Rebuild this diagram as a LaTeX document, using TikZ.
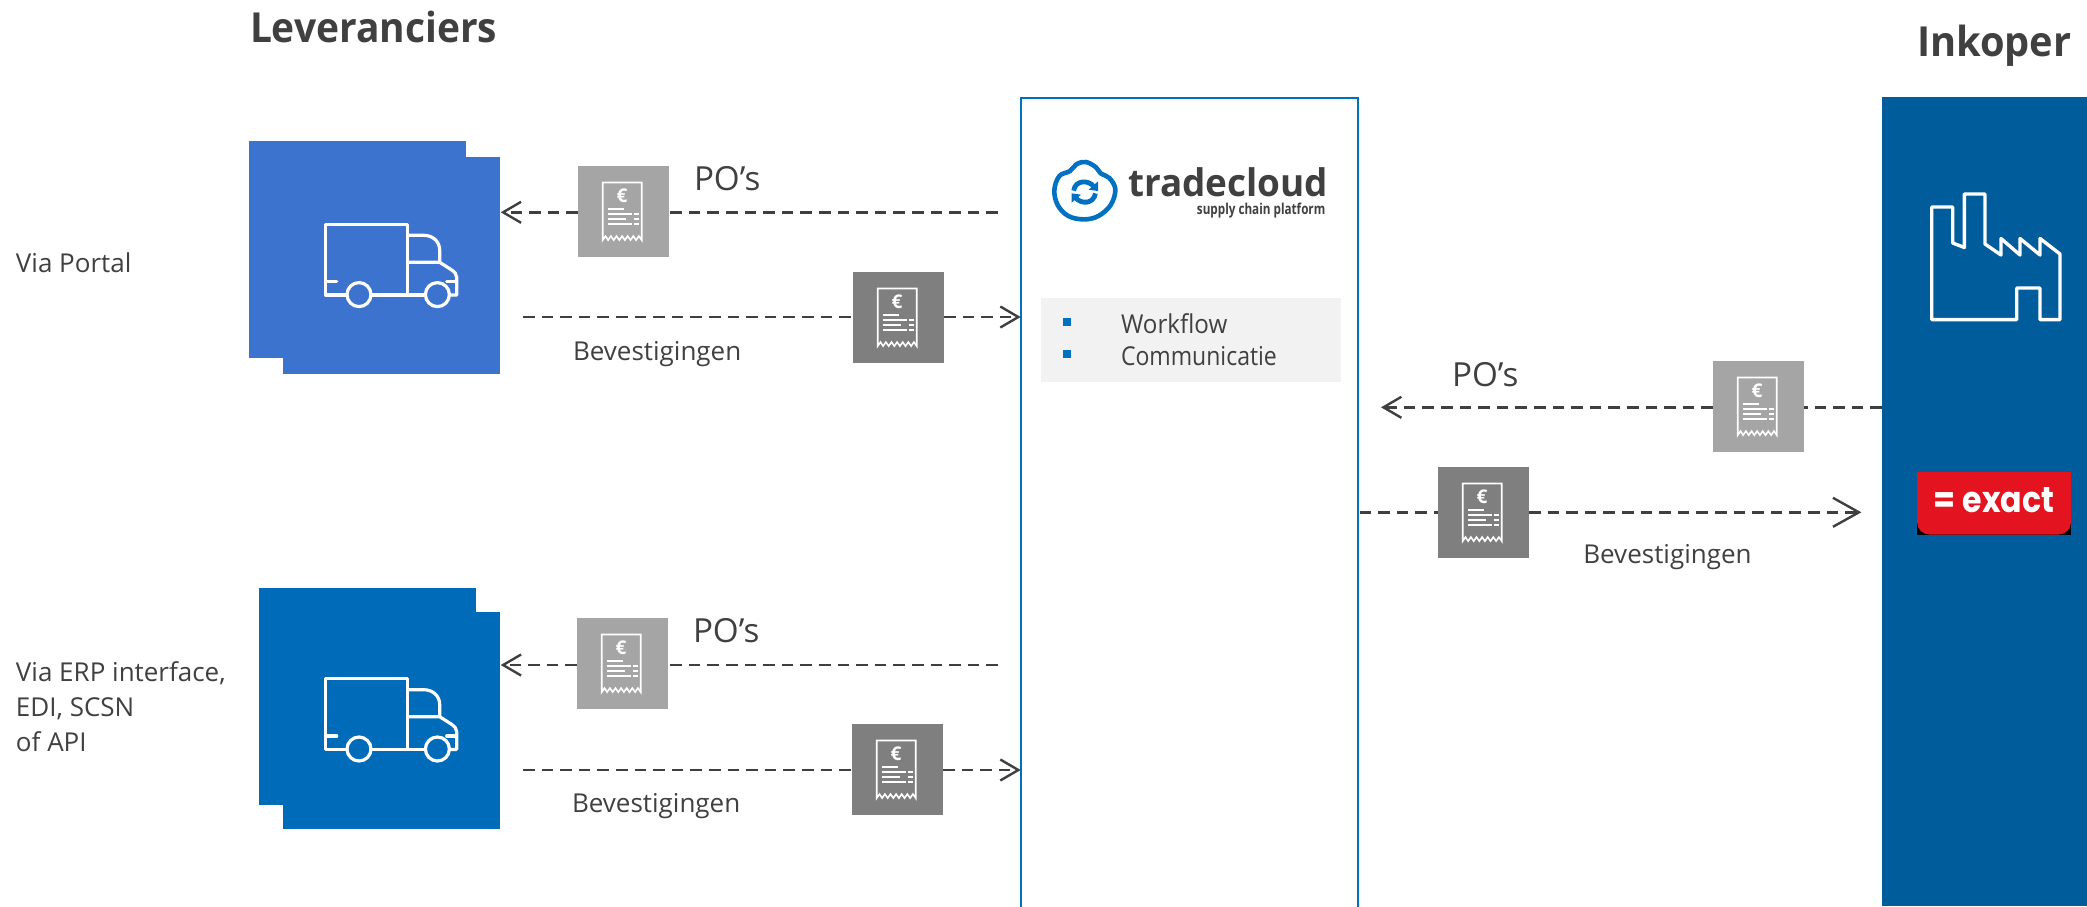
\documentclass[tikz,border=0pt]{standalone}
\usepackage{fontspec}
\setmainfont{Open Sans}
\newfontfamily\seg{Open Sans}
\newfontfamily\segn[FakeStretch=0.93]{Open Sans}
\newfontfamily\segc[FakeStretch=0.885]{Open Sans}
\newfontfamily\seghead[FakeStretch=0.94]{Open Sans}
\newfontfamily\segink[FakeStretch=0.96]{Open Sans}
\newfontfamily\logofont[FakeStretch=0.97]{Open Sans}
\newfontfamily\logosub[FakeStretch=0.78]{Open Sans}
\newfontfamily\exactfont[FakeStretch=0.88]{Poppins}
\usetikzlibrary{arrows.meta}
\definecolor{ink}{HTML}{404040}
\definecolor{flowc}{HTML}{3F3F3F}
\definecolor{supA}{HTML}{3C73CE}
\definecolor{supB}{HTML}{006CB9}
\definecolor{buyer}{HTML}{005C9B}
\definecolor{tcblue}{HTML}{0070C0}
\definecolor{tileL}{HTML}{A5A5A5}
\definecolor{tileD}{HTML}{7F7F7F}
\definecolor{panelg}{HTML}{F2F2F2}
\definecolor{exred}{HTML}{E31420}
\tikzset{
  lab/.style={anchor=base west,inner sep=0pt,outer sep=0pt,text=ink,font=\seg\fontsize{13}{17.5}\selectfont},
  big/.style={anchor=base west,inner sep=0pt,outer sep=0pt,text=ink,font=\seg\fontsize{16.6}{20}\selectfont},
  head/.style={anchor=base west,inner sep=0pt,outer sep=0pt,text=ink,font=\seghead\bfseries\fontsize{20.7}{24}\selectfont},
  tile/.style={minimum width=45.5pt,minimum height=45.5pt,inner sep=0pt,outer sep=0pt,fill=#1},
  block/.style={inner sep=0pt,outer sep=0pt,fill=#1},
  flow/.style={draw=flowc,line width=1.2pt,dash pattern=on 5.8pt off 3.5pt},
  small tip/.style={-{Straight Barb[length=9pt,width=10.5pt,line width=1.2pt]}},
  large tip/.style={-{Straight Barb[length=13pt,width=14.5pt,line width=1.2pt]}},
  receipt/.pic={
    \begin{scope}[draw=white,line width=.8pt,line join=miter]
      \draw (-20.8,28.6) -- (-20.8,-29) -- (18.2,-29) -- (18.2,28.6)
        -- (15.4,24.6) -- (12.6,28.6) -- (9.8,24.6) -- (7,28.6) -- (4.2,24.6) -- (1.4,28.6)
        -- (-1.4,24.6) -- (-4.2,28.6) -- (-7,24.6) -- (-9.8,28.6) -- (-12.6,24.6) -- (-15.4,28.6) -- (-18,24.6) -- cycle;
      \draw (-15.7,-2.7) -- (0,-2.7);
      \draw (-15.7,2.6) -- (8,2.6) (10,2.6) -- (15,2.6);
      \draw (-15.7,7.6) -- (2,7.6) (10,7.6) -- (15,7.6);
      \draw (-15.7,12.6) -- (8,12.6) (10,12.6) -- (15,12.6);
    \end{scope}
    \node[text=white,inner sep=0pt,font=\seg\bfseries\fontsize{9.5}{10}\selectfont] at (-1.5,-15.4) {€};
  },
  truck/.pic={
    \begin{scope}[draw=white,line width=1.6pt,line join=round,line cap=round]
      \draw (21,70.7) -- (0,70.7) -- (0,0) -- (82,0) -- (82,70.7);
      \draw (45.5,70.7) -- (99.5,70.7);
      \draw (124,70.7) -- (131,70.7) -- (131,53) .. controls (131,50) and (129,47.5) .. (125,45) -- (114,38) -- (82,38);
      \draw (82,11) -- (98,11) .. controls (107,11) and (114,17) .. (114,26) -- (114,38);
      \draw (0,57.3) -- (11,57.3);
      \draw (121,57.3) -- (129,57.3);
      \draw (33.3,70.3) circle[radius=12];
      \draw (111.7,70.3) circle[radius=12];
    \end{scope}
  }
}
\begin{document}
\begin{tikzpicture}[x=.5pt,y=-.5pt]
\useasboundingbox (0,0) rectangle (2087,906);
% suppliers
\node[block=supA,minimum width=108.5pt,minimum height=108.5pt,anchor=north west] (supAback) at (249,141) {};
\node[block=supA,minimum width=108.5pt,minimum height=108.5pt,anchor=north west] (supAfront) at (283,157) {};
\node[block=supB,minimum width=108.5pt,minimum height=108.5pt,anchor=north west] (supBback) at (259,588) {};
\node[block=supB,minimum width=108.5pt,minimum height=108.5pt,anchor=north west] (supBfront) at (283,612) {};
\pic at (325.7,224.3) {truck};
\pic at (325.7,678.7) {truck};
% platform
\node[draw=tcblue,line width=1.3pt,inner sep=0pt,outer sep=0pt,minimum width=168.5pt,minimum height=420pt,anchor=north west] (platform) at (1021,98) {};
\node[block=panelg,minimum width=150pt,minimum height=42pt,anchor=north west] (features) at (1041,298) {};
\node[fill=tcblue,inner sep=0pt,minimum size=4.2pt] (bulA) at (1067,322) {};
\node[fill=tcblue,inner sep=0pt,minimum size=4.2pt] (bulB) at (1067,354) {};
\node[lab,font=\segn\fontsize{13}{17.5}\selectfont] (wf) at (1121,333) {Workflow};
\node[lab,font=\segc\fontsize{13}{17.5}\selectfont] (comm) at (1121,365) {Communicatie};
% logo
\begin{scope}[shift={(1020,90)},x=.1667pt,y=-.1667pt]
  \draw[tcblue,line width=2.3pt,line join=round] plot[smooth cycle,tension=.6] coordinates {
    (103,300) (118,258) (150,243) (170,222) (198,216) (228,232) (242,250) (268,264) (286,298)
    (272,345) (235,378) (192,388) (145,378) (113,345)};
  \draw[tcblue,line width=2.4pt] (161,302) .. controls (165,270) and (205,268) .. (222,290);
  \fill[tcblue] (234,274) -- (234,303) -- (206,299) -- cycle;
  \draw[tcblue,line width=2.4pt] (226,310) .. controls (222,342) and (182,344) .. (166,322);
  \fill[tcblue] (155,338) -- (155,310) -- (183,314) -- cycle;
\end{scope}
\node[anchor=base west,inner sep=0pt,text=ink,font=\logofont\bfseries\fontsize{19}{20}\selectfont] (tc) at (1127.7,196) {tradecloud};
\node[anchor=base east,inner sep=0pt,text=ink,font=\logosub\bfseries\fontsize{7.5}{8}\selectfont] (tcsub) at (1325.7,214) {supply chain platform};
% buyer
\node[block=buyer,minimum width=102.5pt,minimum height=404.5pt,anchor=north west] (inkoper) at (1882,97) {};
\draw[white,line width=1.7pt,line join=round]
  (1931.7,207) -- (1952.7,207) -- (1952.7,243) -- (1964.3,247.5) -- (1964.3,194) -- (1985,194) -- (1985,244)
  -- (2001,255) -- (2001,238.5) -- (2020,255) -- (2020,238.5) -- (2040,255) -- (2040,238.5) -- (2060,254)
  -- (2060,319.6) -- (2040,319.6) -- (2040,288) -- (2016.7,288) -- (2016.7,319.6) -- (1931.7,319.6) -- cycle;
\fill[black] (1917,515) rectangle (2071,534.6);
\fill[exred] (1917,472) -- (2071,472) -- (2071,522) arc[start angle=0,end angle=90,radius=12.6] -- (1929.6,534.6) arc[start angle=90,end angle=180,radius=12.6] -- cycle;
\node[anchor=base,text=white,inner sep=0pt,font=\exactfont\bfseries\fontsize{18}{20}\selectfont] (exact) at (1994,512.5) {= exact};
% tiles
\node[tile=tileL,anchor=north west] (t1) at (578,166) {};
\node[tile=tileD,anchor=north west] (t2) at (853,272) {};
\node[tile=tileL,anchor=north west] (t3) at (577,618) {};
\node[tile=tileD,anchor=north west] (t4) at (852,724) {};
\node[tile=tileL,anchor=north west] (t5) at (1713,361) {};
\node[tile=tileD,anchor=north west] (t6) at (1438,467) {};
\foreach \t in {t1,t2,t3,t4,t5,t6} \pic at (\t.center) {receipt};
% connector ends
\coordinate (a1s) at (998,212.3);  \coordinate (a1e) at (500.7,212.3);
\coordinate (a2s) at (523,317);    \coordinate (a2e) at (1020.7,317);
\coordinate (a3s) at (998,665);    \coordinate (a3e) at (500.7,665);
\coordinate (a4s) at (523,770);    \coordinate (a4e) at (1020.7,770);
\coordinate (a5s) at (1882,407.3); \coordinate (a5e) at (1381,407.3);
\coordinate (a6s) at (1359.6,512.3); \coordinate (a6e) at (1861.4,512.3);
\draw[flow] (a1s) -- (a1s -| t1.east);
\draw[flow,small tip] (a1s -| t1.west) -- (a1e);
\draw[flow] (a2s) -- (a2s -| t2.west);
\draw[flow,small tip] (a2s -| t2.east) -- (a2e);
\draw[flow] (a3s) -- (a3s -| t3.east);
\draw[flow,small tip] (a3s -| t3.west) -- (a3e);
\draw[flow] (a4s) -- (a4s -| t4.west);
\draw[flow,small tip] (a4s -| t4.east) -- (a4e);
\draw[flow] (a5s) -- (a5s -| t5.east);
\draw[flow,small tip] (a5s -| t5.west) -- (a5e);
\draw[flow] (a6s) -- (a6s -| t6.west);
\draw[flow,large tip] (a6s -| t6.east) -- (a6e);
% labels
\node[head] (lev) at (250,42) {Leveranciers};
\node[head,font=\segink\bfseries\fontsize{20.7}{24}\selectfont] (ink) at (1917,56.5) {Inkoper};
\node[lab] (vp) at (16,272.5) {Via Portal};
\node[lab] (v1) at (16,681) {Via ERP interface,};
\node[lab] (v2) at (16,716) {EDI, SCSN};
\node[lab] (v3) at (16,751) {of API};
\node[big] (po1) at (694,190) {PO’s};
\node[big] (po2) at (693,642.5) {PO’s};
\node[big] (po3) at (1452,386) {PO’s};
\node[lab] (be1) at (573,360) {Bevestigingen};
\node[lab] (be2) at (572,812.5) {Bevestigingen};
\node[lab] (be3) at (1583.3,563) {Bevestigingen};
\end{tikzpicture}
\end{document}
